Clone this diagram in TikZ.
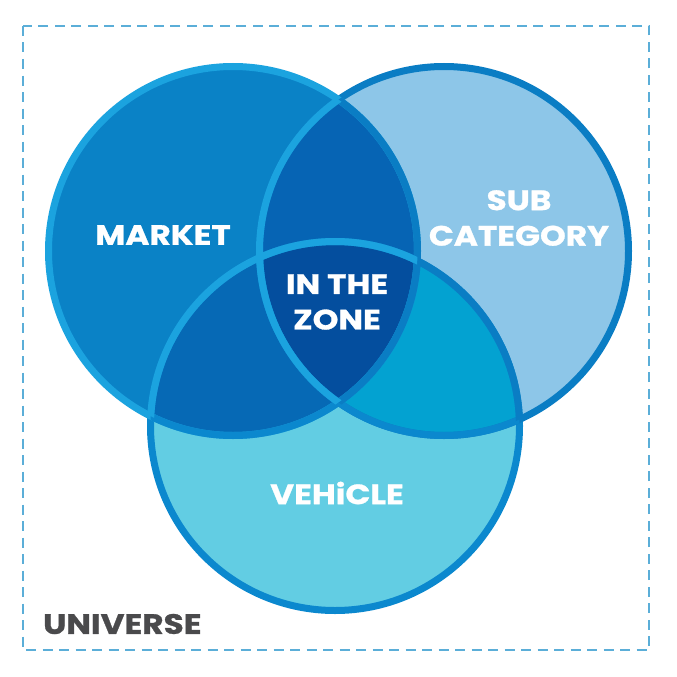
\documentclass[tikz,border=0pt]{standalone}
\usepackage{fontspec}
\setmainfont{Poppins}[FakeStretch=1.17, BoldFeatures={FakeBold=1}]
\definecolor{mktfill}{HTML}{0A82C6}
\definecolor{subfill}{HTML}{8DC6E8}
\definecolor{vehfill}{HTML}{62CDE3}
\definecolor{msfill}{HTML}{0664B4}
\definecolor{mvfill}{HTML}{0669B5}
\definecolor{svfill}{HTML}{03A2D1}
\definecolor{zonefill}{HTML}{044E9E}
\definecolor{mktring}{HTML}{1BA3DF}
\definecolor{subring}{HTML}{0A7DC4}
\definecolor{vehring}{HTML}{0B88CE}
\definecolor{edge}{HTML}{5BAED8}
\definecolor{unitext}{HTML}{4A4A4C}
\begin{document}
\begin{tikzpicture}[x=1pt, y=-1pt,
    ring/.style={line width=7pt},
    lbl/.style={text=white, inner sep=0pt, align=center,
      font=\bfseries\fontsize{28}{35.5}\selectfont},
  ]
  \useasboundingbox (0,0) rectangle (677,677);
  \def\mkt{(233,251) circle (184.5pt)}
  \def\sub{(444,251) circle (184.5pt)}
  \def\veh{(335,426) circle (184.5pt)}
  % universe frame
  \draw[edge, line width=1.5pt, dash pattern=on 10pt off 6.5pt] (23,26) rectangle (649,650) ;
  % fills
  \fill[mktfill] \mkt ;
  \fill[subfill] \sub ;
  \fill[vehfill] \veh ;
  \begin{scope} \clip \mkt ; \fill[msfill] \sub ; \end{scope}
  \begin{scope} \clip \mkt ; \fill[mvfill] \veh ; \end{scope}
  \begin{scope} \clip \sub ; \fill[svfill] \veh ; \end{scope}
  \begin{scope} \clip \mkt ; \clip \sub ; \fill[zonefill] \veh ; \end{scope}
  % rings
  \draw[ring, vehring] \veh ;
  \draw[ring, subring] \sub ;
  \draw[ring, mktring] \mkt ;
  \begin{scope} \clip \veh ; \draw[ring, vehring] \mkt \sub ; \end{scope}
  \begin{scope} \clip \sub ; \draw[ring, subring] \mkt \veh ; \end{scope}
  \begin{scope} \clip \mkt ; \draw[ring, mktring] \sub \veh ; \end{scope}
  % labels
  \node[lbl] (market) at (163,235) {MARKET} ;
  \node[lbl] (subcat) at (519,218) {SUB\\CATEGORY} ;
  \node[lbl] (zone) at (337,302) {IN THE\\ZONE} ;
  \node[lbl] (vehicle) at (337,493) {VEHiCLE} ;
  \node[lbl, text=unitext, anchor=west] (universe) at (43,624) {UNIVERSE} ;
\end{tikzpicture}
\end{document}
